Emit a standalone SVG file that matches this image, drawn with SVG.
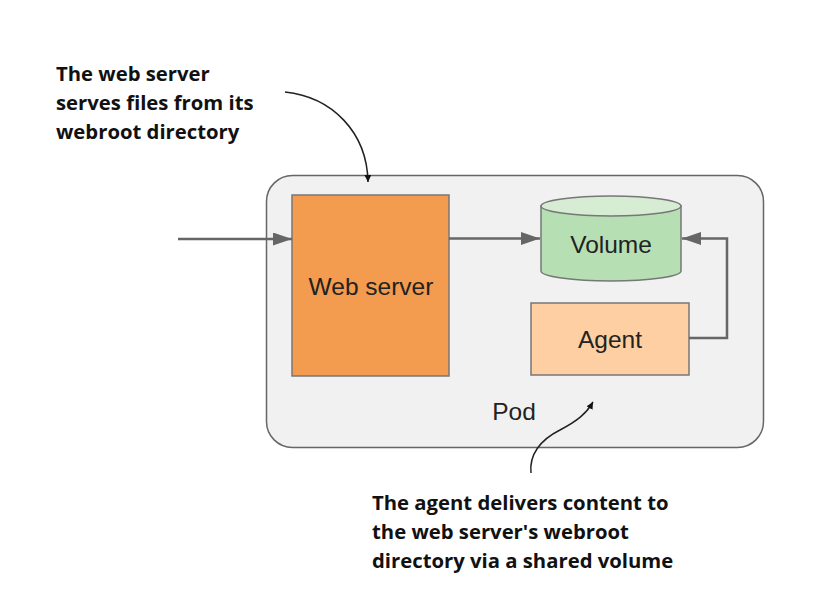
<svg xmlns="http://www.w3.org/2000/svg" width="814" height="612" viewBox="0 0 814 612">
<style>
.lbl{font-family:"Liberation Sans",Arial,sans-serif;font-size:24.5px;fill:#222;text-anchor:middle}
.note{font-family:"Open Sans","Noto Sans",sans-serif;font-weight:bold;font-size:20.3px;fill:#111}
.conn{fill:none;stroke:#666;stroke-width:2.5}
.ann{fill:none;stroke:#222;stroke-width:1.5}
.box{stroke:#777;stroke-width:1.5}
</style>
<defs>
<marker id="ahg" viewBox="0 0 10 10" refX="10" refY="5" markerWidth="19" markerHeight="13" markerUnits="userSpaceOnUse" orient="auto" preserveAspectRatio="none">
<path d="M0,0 L10,5 L0,10 Z" fill="#666"/>
</marker>
<marker id="ahk" viewBox="0 0 10 10" refX="10" refY="5" markerWidth="7" markerHeight="7" markerUnits="userSpaceOnUse" orient="auto">
<path d="M0,0 L10,5 L0,10 Z" fill="#111"/>
</marker>
</defs>
<rect width="814" height="612" fill="#fff"/>
<g id="pod">
<rect x="266.5" y="175.5" width="497" height="272" rx="26" ry="26" fill="#f1f1f1" stroke="#666" stroke-width="1.5"/>
<text class="lbl" x="514" y="420">Pod</text>
</g>
<g id="webserver">
<rect class="box" x="292" y="195" width="157" height="181" fill="#f39c4f"/>
<text class="lbl" x="371" y="295">Web server</text>
</g>
<g id="volume">
<path d="M541,206 L541,271 A70,10 0 0 0 681,271 L681,206 Z" fill="#b7dfb4" stroke="#777" stroke-width="1.5"/>
<ellipse cx="611" cy="206" rx="70" ry="10" fill="#d6edd4" stroke="#777" stroke-width="1.5"/>
<text class="lbl" x="611" y="253">Volume</text>
</g>
<g id="agent">
<rect class="box" x="531" y="303" width="158" height="72" fill="#fecfa2"/>
<text class="lbl" x="610" y="348">Agent</text>
</g>
<g id="connectors">
<path class="conn" d="M178,239 L292,239" marker-end="url(#ahg)"/>
<path class="conn" d="M449,238.5 L540,238.5" marker-end="url(#ahg)"/>
<path class="conn" d="M689,338 L727,338 L727,238.5 L682,238.5" marker-end="url(#ahg)"/>
<path class="ann" d="M285,92 C332,97 367,132 368,182" marker-end="url(#ahk)"/>
<path class="ann" d="M531,473 C529,455 540,440 560,430 C577,421 586,414 593,402" marker-end="url(#ahk)"/>
</g>
<g id="notes">
<text class="note" x="56" y="81">The web server</text>
<text class="note" x="56" y="110">serves files from its</text>
<text class="note" x="56" y="139">webroot directory</text>
<text class="note" x="372" y="510">The agent delivers content to</text>
<text class="note" x="372" y="539">the web server's webroot</text>
<text class="note" x="372" y="568">directory via a shared volume</text>
</g>
</svg>
